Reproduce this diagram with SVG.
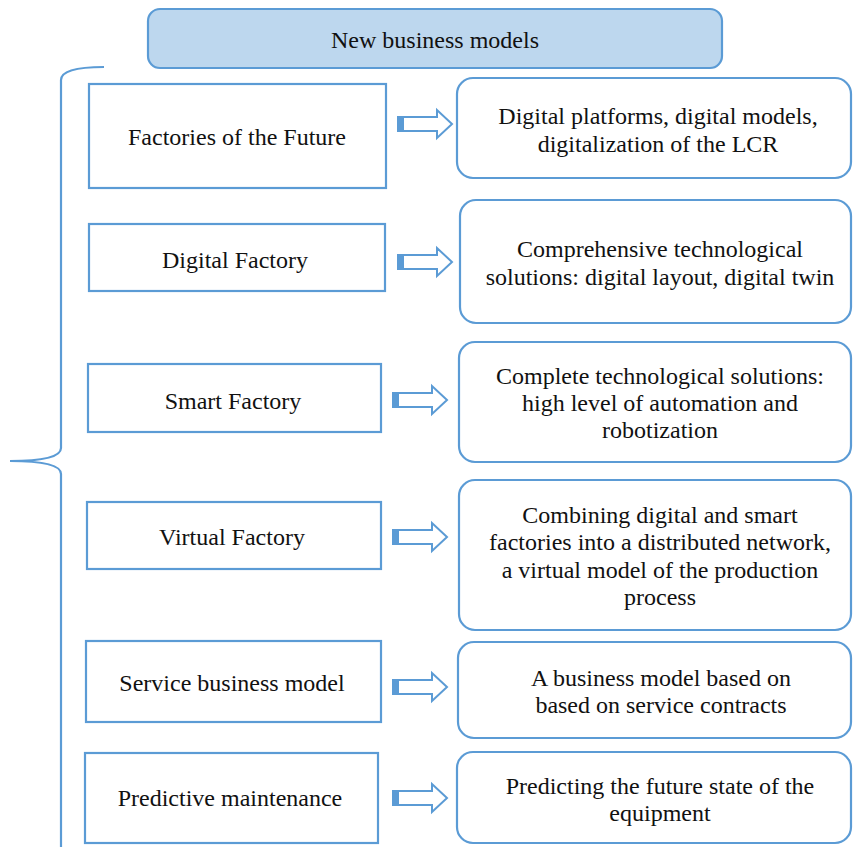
<svg xmlns="http://www.w3.org/2000/svg" width="853" height="847" viewBox="0 0 853 847">
<style>
.box{fill:#fff;stroke:#5B9BD5;stroke-width:2.2}
.hdr{fill:#BDD7EE;stroke:#5B9BD5;stroke-width:2.2}
text{font-family:'Liberation Serif','DejaVu Serif',serif;font-size:24px;fill:#111;text-anchor:middle}
.arr{fill:#fff;stroke:#5B9BD5;stroke-width:2}
.arrf{fill:#5B9BD5}
.br{fill:none;stroke:#5B9BD5;stroke-width:2.2}
</style>
<defs>
<g id="arrow">
<path class="arr" d="M0,-7 H39 V-14 L54,0 L39,14 V7 H0 Z"/>
<rect class="arrf" x="0" y="-7" width="6" height="14"/>
</g>
</defs>
<rect width="853" height="847" fill="#fff"/>
<g id="header">
<rect class="hdr" x="148" y="9" width="574" height="59" rx="12"/>
<text x="435" y="48">New business models</text>
</g>
<g id="brace">
<path class="br" d="M104,67 Q61,67 61,80 V448 Q61,461 10,461 M61,474 Q61,461 10,461 M61,474 V847"/>
</g>
<g id="left1"><rect class="box" x="89" y="84" width="297" height="104"/><text x="237" y="145">Factories of the Future</text></g>
<g id="left2"><rect class="box" x="89" y="224" width="296" height="67"/><text x="235" y="268">Digital Factory</text></g>
<g id="left3"><rect class="box" x="88" y="364" width="293" height="68"/><text x="233" y="409">Smart Factory</text></g>
<g id="left4"><rect class="box" x="87" y="502" width="294" height="67"/><text x="232" y="545">Virtual Factory</text></g>
<g id="left5"><rect class="box" x="86" y="641" width="295" height="81"/><text x="232" y="691">Service business model</text></g>
<g id="left6"><rect class="box" x="85" y="753" width="293" height="90"/><text x="230" y="806">Predictive maintenance</text></g>
<g id="right1"><rect class="box" x="457" y="78" width="394" height="100" rx="16"/><text x="658" y="124">Digital platforms, digital models,</text><text x="658" y="152">digitalization of the LCR</text></g>
<g id="right2"><rect class="box" x="460" y="200" width="391" height="123" rx="16"/><text x="660" y="257">Comprehensive technological</text><text x="660" y="285">solutions: digital layout, digital twin</text></g>
<g id="right3"><rect class="box" x="459" y="342" width="392" height="120" rx="16"/><text x="660" y="384">Complete technological solutions:</text><text x="660" y="411">high level of automation and</text><text x="660" y="438">robotization</text></g>
<g id="right4"><rect class="box" x="459" y="480" width="392" height="150" rx="16"/><text x="660" y="523">Combining digital and smart</text><text x="660" y="550">factories into a distributed network,</text><text x="660" y="578">a virtual model of the production</text><text x="660" y="605">process</text></g>
<g id="right5"><rect class="box" x="458" y="642" width="393" height="96" rx="16"/><text x="661" y="686">A business model based on</text><text x="661" y="713">based on service contracts</text></g>
<g id="right6"><rect class="box" x="457" y="752" width="394" height="91" rx="16"/><text x="660" y="794">Predicting the future state of the</text><text x="660" y="821">equipment</text></g>
<g id="connectors">
<use href="#arrow" x="398" y="124"/>
<use href="#arrow" x="398" y="262"/>
<use href="#arrow" x="393" y="400"/>
<use href="#arrow" x="393" y="537"/>
<use href="#arrow" x="393" y="687"/>
<use href="#arrow" x="393" y="798"/>
</g>
</svg>
